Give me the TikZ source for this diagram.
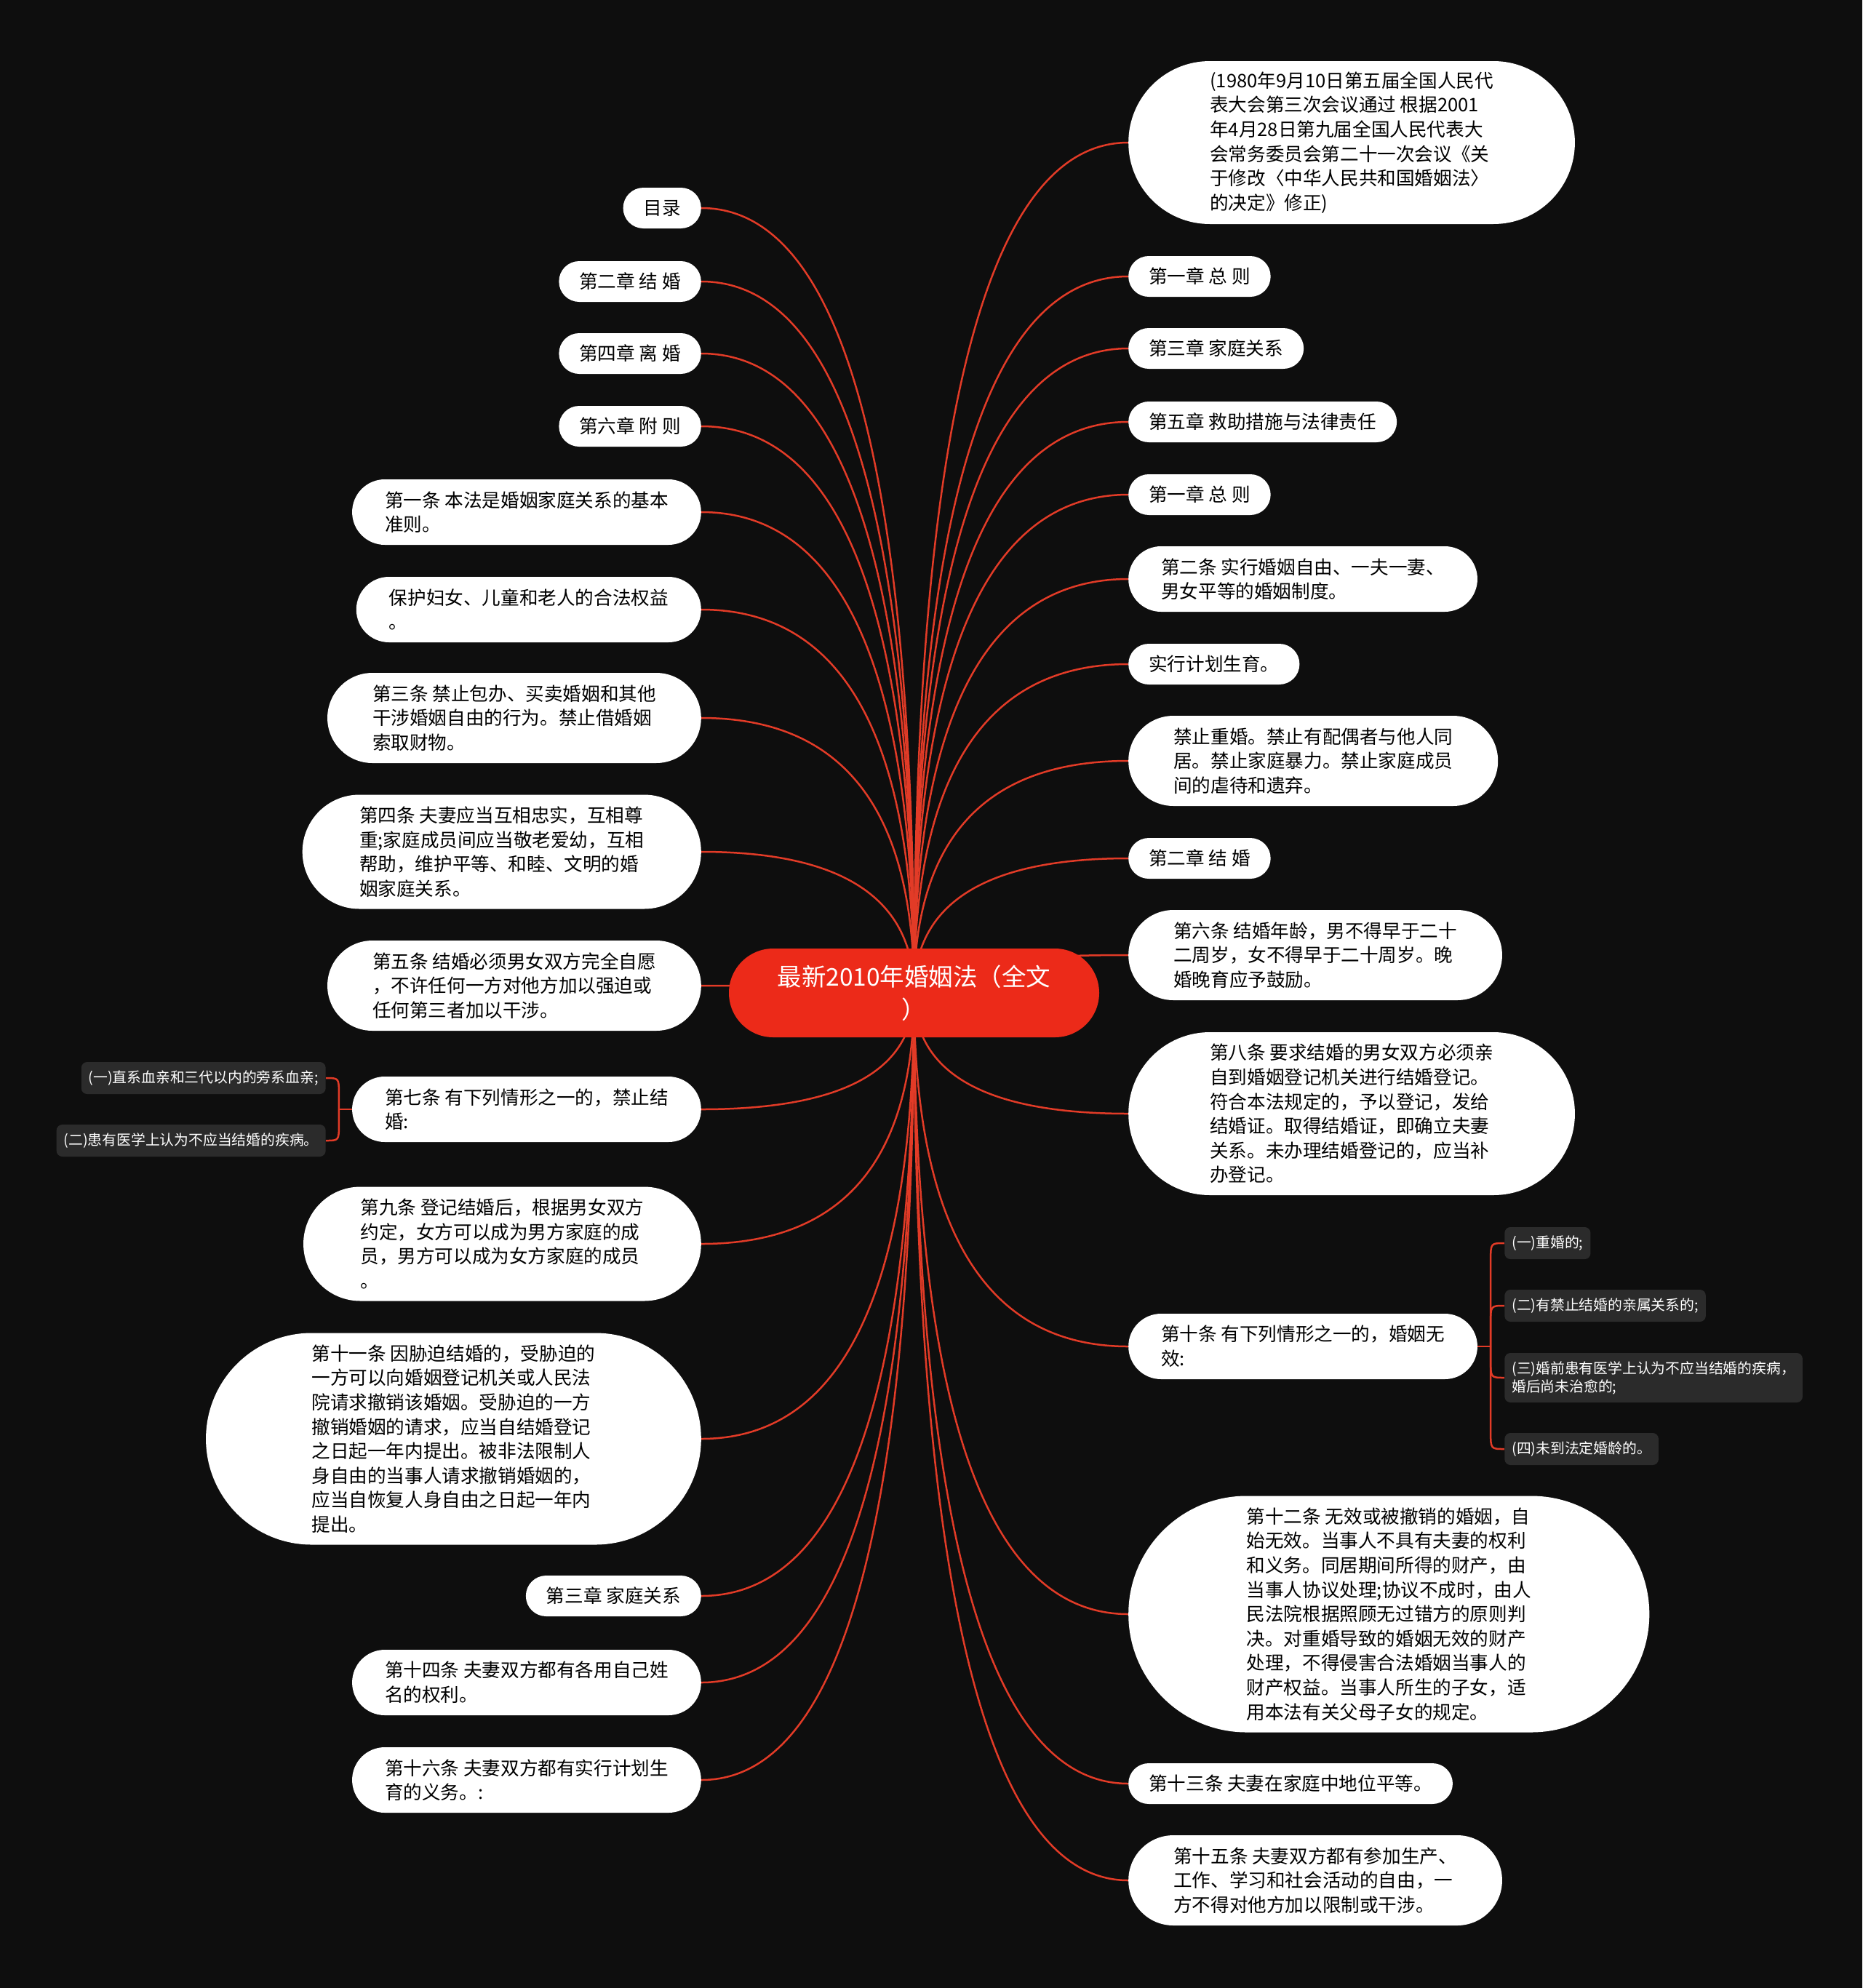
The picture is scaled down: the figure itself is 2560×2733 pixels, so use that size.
\documentclass[tikz,border=0pt]{standalone}
\usepackage{fontspec}
\newfontfamily\cjk{Noto Sans CJK SC}
\usetikzlibrary{calc}
\pgfdeclarelayer{bg}
\pgfdeclarelayer{links}
\pgfsetlayers{bg,links,main}
\definecolor{bgcol}{HTML}{0E0E0E}
\definecolor{linkred}{HTML}{E23B27}
\definecolor{rootred}{HTML}{EC2A19}
\definecolor{subgray}{HTML}{2B2B2B}
\newcommand\mlink[1]{\draw[link] (root.center) .. controls ($(root.center)!0.6667!(root.center|-#1)$) and ($(#1)!0.6667!(root.center|-#1)$) .. (#1);}
\tikzset{
  link/.style={draw=linkred, line width=2.5pt},
  leaf/.style={fill=white, text=black, font=\cjk\fontsize{25.6}{33.6}\selectfont, align=left, inner ysep=0pt, shape=rectangle},
  hA/.style={leaf, minimum height=56pt, inner xsep=28pt, rounded corners=27.9pt},
  hB/.style={leaf, minimum height=90pt, inner xsep=45pt, rounded corners=44.9pt},
  hC/.style={leaf, minimum height=124pt, inner xsep=62pt, rounded corners=61.9pt},
  hD/.style={leaf, minimum height=157pt, inner xsep=78.5pt, rounded corners=78.4pt},
  hF/.style={leaf, minimum height=224pt, inner xsep=112pt, rounded corners=111.9pt},
  hH/.style={leaf, minimum height=291pt, inner xsep=145.5pt, rounded corners=145.4pt},
  hI/.style={leaf, minimum height=325pt, inner xsep=162.5pt, rounded corners=162.4pt},
  lft/.style={anchor=east},
  rgt/.style={anchor=west},
  subbox/.style={fill=subgray, text=white, font=\cjk\fontsize{19.8}{25}\selectfont, align=left, rounded corners=8pt, inner xsep=10pt, inner ysep=0pt, minimum height=44pt},
  rootbox/.style={fill=rootred, text=white, font=\cjk\fontsize{33.5}{45}\selectfont, align=center, inner sep=0pt, minimum width=509pt, minimum height=122pt, rounded corners=60.9pt}
}
\begin{document}
\begin{tikzpicture}[x=1pt,y=-1pt]
\begin{pgfonlayer}{bg}
\fill[bgcol] (0,0) rectangle (2560,2733);
\end{pgfonlayer}
\useasboundingbox (0,0) rectangle (2560,2733);

\node[rootbox] (root) at (1256.5,1365) {最新2010年婚姻法（全文\\）};

% left side
\node[hA,lft] (L1) at (964,286) {目录};
\node[hA,lft] (L2) at (964,387) {第二章 结 婚};
\node[hA,lft] (L3) at (964,486) {第四章 离 婚};
\node[hA,lft] (L4) at (964,586) {第六章 附 则};
\node[hB,lft] (L5) at (964,704) {第一条 本法是婚姻家庭关系的基本\\准则。};
\node[hB,lft] (L6) at (964,838) {保护妇女、儿童和老人的合法权益\\。};
\node[hC,lft] (L7) at (964,987) {第三条 禁止包办、买卖婚姻和其他\\干涉婚姻自由的行为。禁止借婚姻\\索取财物。};
\node[hD,lft] (L8) at (964,1171) {第四条 夫妻应当互相忠实，互相尊\\重;家庭成员间应当敬老爱幼，互相\\帮助，维护平等、和睦、文明的婚\\姻家庭关系。};
\node[hC,lft] (L9) at (964,1355) {第五条 结婚必须男女双方完全自愿\\，不许任何一方对他方加以强迫或\\任何第三者加以干涉。};
\node[hB,lft] (L10) at (964,1525) {第七条 有下列情形之一的，禁止结\\婚:};
\node[hD,lft] (L11) at (964,1710) {第九条 登记结婚后，根据男女双方\\约定，女方可以成为男方家庭的成\\员，男方可以成为女方家庭的成员\\。};
\node[hH,lft] (L12) at (964,1978) {第十一条 因胁迫结婚的，受胁迫的\\一方可以向婚姻登记机关或人民法\\院请求撤销该婚姻。受胁迫的一方\\撤销婚姻的请求，应当自结婚登记\\之日起一年内提出。被非法限制人\\身自由的当事人请求撤销婚姻的，\\应当自恢复人身自由之日起一年内\\提出。};
\node[hA,lft] (L13) at (964,2194) {第三章 家庭关系};
\node[hB,lft] (L14) at (964,2313) {第十四条 夫妻双方都有各用自己姓\\名的权利。};
\node[hB,lft] (L15) at (964,2447) {第十六条 夫妻双方都有实行计划生\\育的义务。:};

% right side
\node[hF,rgt] (R1) at (1551,196) {(1980年9月10日第五届全国人民代\\表大会第三次会议通过 根据2001\\年4月28日第九届全国人民代表大\\会常务委员会第二十一次会议《关\\于修改〈中华人民共和国婚姻法〉\\的决定》修正)};
\node[hA,rgt] (R2) at (1551,380) {第一章 总 则};
\node[hA,rgt] (R3) at (1551,479) {第三章 家庭关系};
\node[hA,rgt] (R4) at (1551,580) {第五章 救助措施与法律责任};
\node[hA,rgt] (R5) at (1551,680) {第一章 总 则};
\node[hB,rgt] (R6) at (1551,796) {第二条 实行婚姻自由、一夫一妻、\\男女平等的婚姻制度。};
\node[hA,rgt] (R7) at (1551,913) {实行计划生育。};
\node[hC,rgt] (R8) at (1551,1046) {禁止重婚。禁止有配偶者与他人同\\居。禁止家庭暴力。禁止家庭成员\\间的虐待和遗弃。};
\node[hA,rgt] (R9) at (1551,1180) {第二章 结 婚};
\node[hC,rgt] (R10) at (1551,1313) {第六条 结婚年龄，男不得早于二十\\二周岁，女不得早于二十周岁。晚\\婚晚育应予鼓励。};
\node[hF,rgt] (R11) at (1551,1531) {第八条 要求结婚的男女双方必须亲\\自到婚姻登记机关进行结婚登记。\\符合本法规定的，予以登记，发给\\结婚证。取得结婚证，即确立夫妻\\关系。未办理结婚登记的，应当补\\办登记。};
\node[hB,rgt] (R12) at (1551,1851) {第十条 有下列情形之一的，婚姻无\\效:};
\node[hI,rgt] (R13) at (1551,2219) {第十二条 无效或被撤销的婚姻，自\\始无效。当事人不具有夫妻的权利\\和义务。同居期间所得的财产，由\\当事人协议处理;协议不成时，由人\\民法院根据照顾无过错方的原则判\\决。对重婚导致的婚姻无效的财产\\处理，不得侵害合法婚姻当事人的\\财产权益。当事人所生的子女，适\\用本法有关父母子女的规定。};
\node[hA,rgt] (R14) at (1551,2452) {第十三条 夫妻在家庭中地位平等。};
\node[hC,rgt] (R15) at (1551,2585) {第十五条 夫妻双方都有参加生产、\\工作、学习和社会活动的自由，一\\方不得对他方加以限制或干涉。};

% sub nodes of L10
\coordinate (J10) at ($(L10.west)+(-18,0)$);
\node[subbox,anchor=east] (S1) at ($(J10)+(-18,-43)$) {(一)直系血亲和三代以内的旁系血亲;};
\node[subbox,anchor=east] (S2) at ($(J10)+(-18,43)$) {(二)患有医学上认为不应当结婚的疾病。};

% sub nodes of R12
\coordinate (J12) at ($(R12.east)+(18,0)$);
\node[subbox,anchor=west] (T1) at ($(J12)+(19,-142)$) {(一)重婚的;};
\node[subbox,anchor=west] (T2) at ($(J12)+(19,-56)$) {(二)有禁止结婚的亲属关系的;};
\node[subbox,anchor=west,minimum height=68pt] (T3) at ($(J12)+(19,43)$) {(三)婚前患有医学上认为不应当结婚的疾病，\\婚后尚未治愈的;};
\node[subbox,anchor=west] (T4) at ($(J12)+(19,141)$) {(四)未到法定婚龄的。};

\begin{pgfonlayer}{links}
\mlink{L1.east}\mlink{L2.east}\mlink{L3.east}\mlink{L4.east}\mlink{L5.east}
\mlink{L6.east}\mlink{L7.east}\mlink{L8.east}\mlink{L9.east}\mlink{L10.east}
\mlink{L11.east}\mlink{L12.east}\mlink{L13.east}\mlink{L14.east}\mlink{L15.east}
\mlink{R1.west}\mlink{R2.west}\mlink{R3.west}\mlink{R4.west}\mlink{R5.west}
\mlink{R6.west}\mlink{R7.west}\mlink{R8.west}\mlink{R9.west}\mlink{R10.west}
\mlink{R11.west}\mlink{R12.west}\mlink{R13.west}\mlink{R14.west}\mlink{R15.west}
\draw[link] (L10.west) -- (J10);
\draw[link] (J10) -- ($(J10|-S1.east)+(0,22)$) .. controls (J10|-S1.east) .. (S1.east);
\draw[link] (J10) -- ($(J10|-S2.east)+(0,-22)$) .. controls (J10|-S2.east) .. (S2.east);
\draw[link] (R12.east) -- (J12);
\draw[link] (J12) -- ($(J12|-T1.west)+(0,24)$) .. controls (J12|-T1.west) .. (T1.west);
\draw[link] (J12) -- ($(J12|-T2.west)+(0,24)$) .. controls (J12|-T2.west) .. (T2.west);
\draw[link] (J12) -- ($(J12|-T3.west)+(0,-24)$) .. controls (J12|-T3.west) .. (T3.west);
\draw[link] (J12) -- ($(J12|-T4.west)+(0,-24)$) .. controls (J12|-T4.west) .. (T4.west);
\end{pgfonlayer}
\end{tikzpicture}
\end{document}
